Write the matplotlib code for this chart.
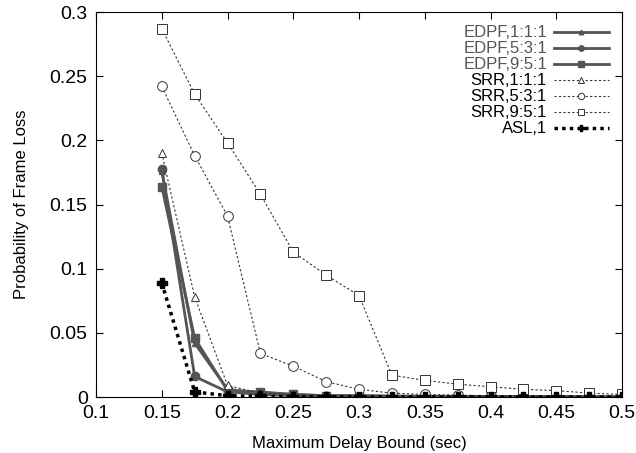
import matplotlib
matplotlib.use("Agg")
import matplotlib.pyplot as plt

plt.rcParams['font.family'] = ['Liberation Sans', 'DejaVu Sans']

x = [0.15, 0.175, 0.2, 0.225, 0.25, 0.275, 0.3, 0.325, 0.35, 0.375, 0.4, 0.425, 0.45, 0.475, 0.5]

edpf_111 = [0.176, 0.042, 0.006, 0.003, 0.002, 0.001, 0.001, 0.0005, 0.0005, 0.0003, 0.0003, 0.0002, 0.0002, 0.0001, 0.0001]
edpf_531 = [0.178, 0.016, 0.004, 0.002, 0.001, 0.001, 0.0005, 0.0005, 0.0003, 0.0003, 0.0002, 0.0002, 0.0001, 0.0001, 0.0001]
edpf_951 = [0.164, 0.046, 0.005, 0.004, 0.002, 0.001, 0.001, 0.0008, 0.0006, 0.0005, 0.0004, 0.0003, 0.0002, 0.0002, 0.0001]
srr_111 = [0.190, 0.078, 0.009, 0.003, 0.002, 0.001, 0.001, 0.0006, 0.0004, 0.0003, 0.0002, 0.0002, 0.0001, 0.0001, 0.0001]
srr_531 = [0.242, 0.188, 0.141, 0.034, 0.024, 0.012, 0.006, 0.003, 0.002, 0.0015, 0.001, 0.001, 0.0008, 0.0006, 0.0005]
srr_951 = [0.287, 0.236, 0.198, 0.158, 0.113, 0.095, 0.079, 0.017, 0.013, 0.010, 0.008, 0.006, 0.005, 0.003, 0.002]
asl_1 = [0.089, 0.004, 0.001, 0.0005, 0.0003, 0.0002, 0.0001, 0.0001, 0.0001, 0.0, 0.0, 0.0, 0.0, 0.0, 0.0]

labels = ['EDPF,1:1:1', 'EDPF,5:3:1', 'EDPF,9:5:1', 'SRR,1:1:1', 'SRR,5:3:1', 'SRR,9:5:1', 'ASL,1']

xticks = [0.1, 0.15, 0.2, 0.25, 0.3, 0.35, 0.4, 0.45, 0.5]
xticklabels = ['0.1', '0.15', '0.2', '0.25', '0.3', '0.35', '0.4', '0.45', '0.5']
yticks = [0, 0.05, 0.1, 0.15, 0.2, 0.25, 0.3]
yticklabels = ['0', '0.05', '0.1', '0.15', '0.2', '0.25', '0.3']

fig = plt.figure(figsize=(6.36, 4.53), dpi=100)
ax = fig.add_axes([0.151, 0.1236, 0.827, 0.8499])

gray = '#555555'
ax.plot(x, edpf_111, color=gray, lw=2, marker='^', ms=5, label=labels[0])
ax.plot(x, edpf_531, color=gray, lw=2, marker='o', ms=6, label=labels[1])
ax.plot(x, edpf_951, color=gray, lw=2, marker='s', ms=6, label=labels[2])
ax.plot(x, srr_111, color='#333333', lw=0.8, ls=(0, (2, 2)), marker='^', ms=6,
        mfc='white', mec='#333333', mew=0.7, label=labels[3])
ax.plot(x, srr_531, color='#333333', lw=0.8, ls=(0, (2, 2)), marker='o', ms=7,
        mfc='white', mec='#333333', mew=0.7, label=labels[4])
ax.plot(x, srr_951, color='#333333', lw=0.8, ls=(0, (2, 2)), marker='s', ms=7,
        mfc='white', mec='#333333', mew=0.7, label=labels[5])
ax.plot(x, asl_1, color='black', lw=2.5, ls=(0, (1, 1.2)), marker='P', ms=7,
        mfc='black', mec='black', label=labels[6])

ax.set_xlim(0.1, 0.5)
ax.set_ylim(0, 0.3)
ax.set_xticks(xticks)
ax.set_xticklabels(xticklabels)
ax.set_yticks(yticks)
ax.set_yticklabels(yticklabels)
ax.tick_params(direction='in', top=True, right=True, labelsize=14, length=5, pad=6)
ax.set_xlabel('Maximum Delay Bound (sec)', fontsize=12, labelpad=10)
ax.set_ylabel('Probability of Frame Loss', fontsize=12, labelpad=15)

leg = ax.legend(loc='upper right', markerfirst=False, frameon=False, fontsize=12,
                labelspacing=0.06, handlelength=3.3, handletextpad=0.4,
                borderaxespad=0.4, markerscale=0.65)
for i, t in enumerate(leg.get_texts()):
    if i < 3:
        t.set_color(gray)

fig.savefig('out.png', dpi=100)
